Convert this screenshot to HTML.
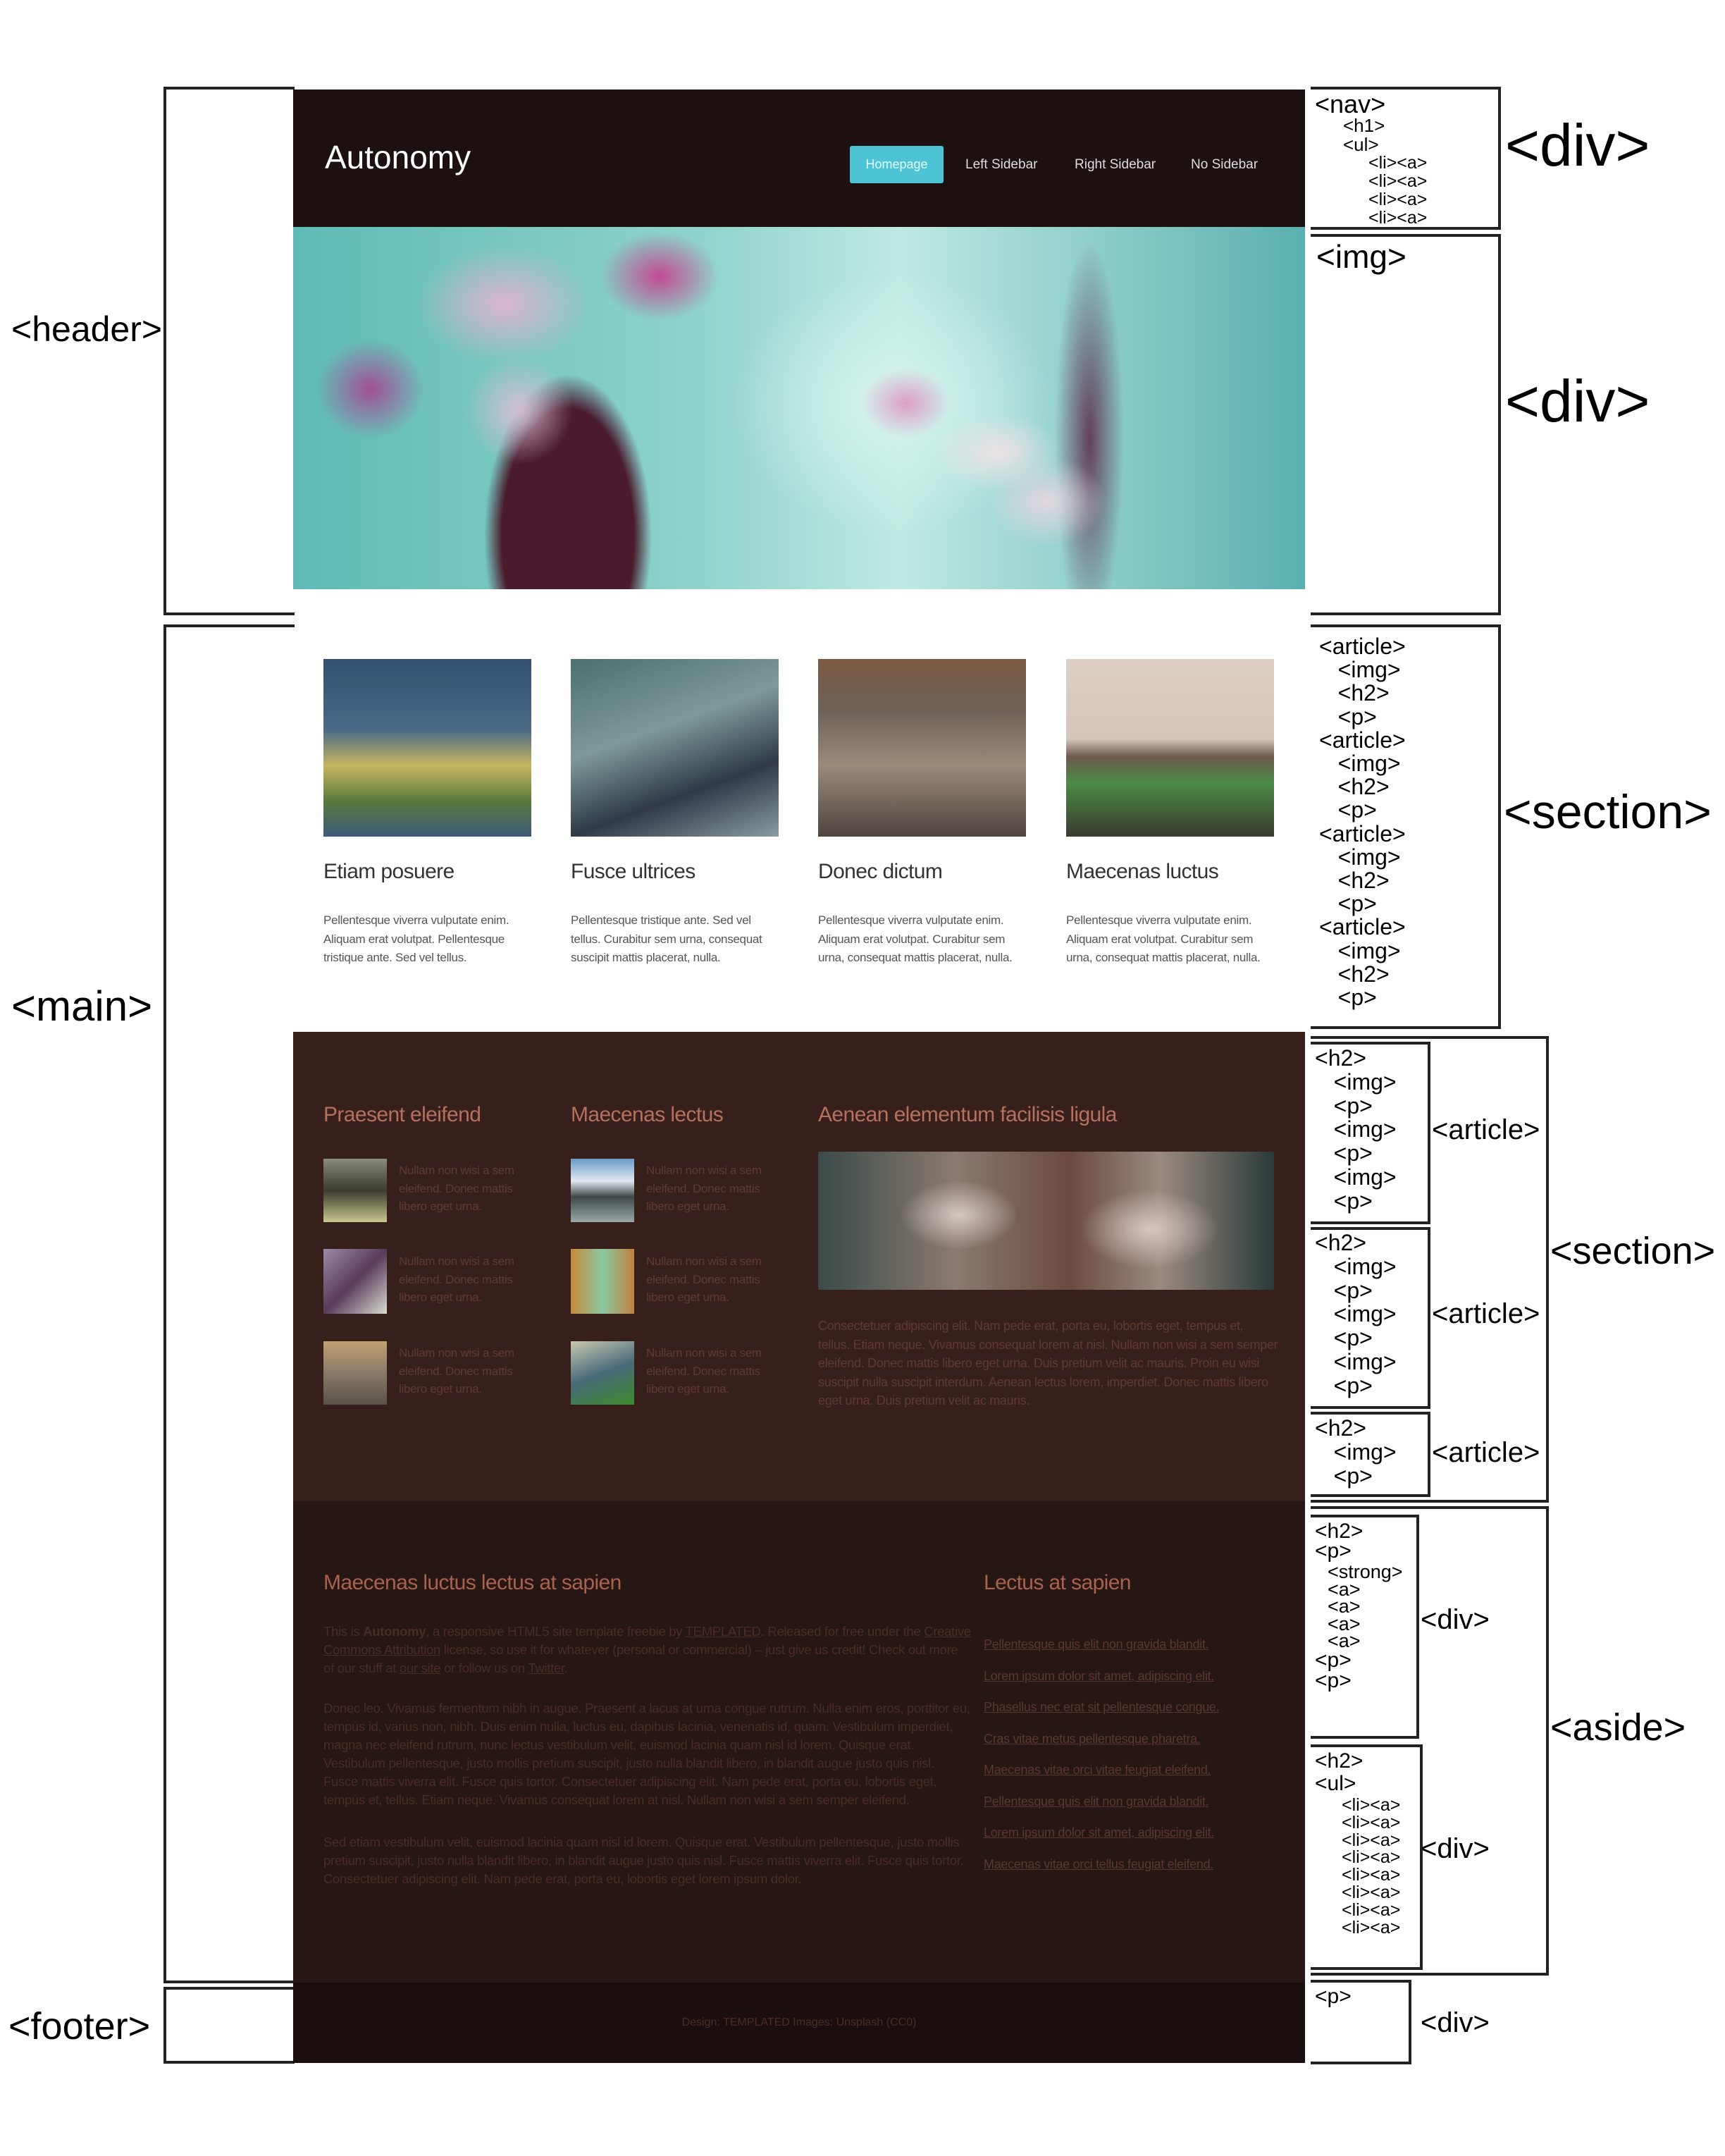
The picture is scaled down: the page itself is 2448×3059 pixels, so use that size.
<!DOCTYPE html>
<html><head><meta charset="utf-8"><style>
*{margin:0;padding:0;box-sizing:border-box}
body{width:2448px;height:3059px;background:#fff;position:relative;overflow:hidden;font-family:"Liberation Sans",sans-serif}
.a{position:absolute;white-space:nowrap}
.lb{position:absolute;border:4px solid #222;border-right:none}
.rb{position:absolute;border:4px solid #222;border-left:none}
.t{position:absolute;white-space:nowrap;color:#000;line-height:1}
.sm{font-size:17px;color:#555;letter-spacing:-0.3px;line-height:1}
.br{font-size:17px;color:#5e3a33;letter-spacing:-0.3px;line-height:1}
.dk{font-size:18.5px;color:#4a2c27;letter-spacing:-0.3px;line-height:1}
.lk{font-size:18px;color:#5a3830;text-decoration:underline;letter-spacing:-0.3px;line-height:1}
.h2{font-size:30px;letter-spacing:-0.6px}
</style></head><body>

<div class="lb" style="left:232px;top:123px;width:186px;height:750px"></div>
<div class="t" style="left:16px;top:442px;font-size:50px">&lt;header&gt;</div>
<div class="lb" style="left:232px;top:886px;width:186px;height:1928px"></div>
<div class="t" style="left:16px;top:1398px;font-size:60px">&lt;main&gt;</div>
<div class="lb" style="left:232px;top:2819px;width:186px;height:109px"></div>
<div class="t" style="left:12px;top:2848px;font-size:54px">&lt;footer&gt;</div>

<div class="a" style="left:416px;top:127px;width:1436px;height:196px;background:#1c1110"></div>
<div class="a" style="left:461px;top:196px;font-size:46px;color:#fff">Autonomy</div>
<div class="a" style="left:1206px;top:207px;width:133px;height:53px;background:#4fc3d6;border-radius:3px"></div>
<div class="a" style="left:1206px;top:223px;width:133px;text-align:center;font-size:18px;color:#dff">Homepage</div>
<div class="a" style="left:1370px;top:223px;font-size:19px;color:#ddd">Left Sidebar</div>
<div class="a" style="left:1525px;top:223px;font-size:19px;color:#ddd">Right Sidebar</div>
<div class="a" style="left:1690px;top:223px;font-size:19px;color:#ddd">No Sidebar</div>

<div class="a" style="left:416px;top:322px;width:1436px;height:514px;overflow:hidden;background:
radial-gradient(ellipse 130px 80px at 1000px 320px,rgba(240,225,230,.95),transparent 70%),
radial-gradient(ellipse 90px 70px at 870px 250px,rgba(220,150,190,.9),transparent 70%),
radial-gradient(ellipse 120px 90px at 1070px 390px,rgba(235,215,225,.9),transparent 70%),
radial-gradient(ellipse 180px 120px at 300px 110px,rgba(225,180,205,.95),transparent 70%),
radial-gradient(ellipse 120px 90px at 520px 70px,rgba(200,60,140,.9),transparent 70%),
radial-gradient(ellipse 110px 100px at 110px 230px,rgba(170,60,140,.85),transparent 70%),
radial-gradient(ellipse 110px 110px at 320px 260px,rgba(220,190,210,.9),transparent 70%),
radial-gradient(ellipse 170px 330px at 390px 440px,#4a1a2e 55%,transparent 70%),
radial-gradient(ellipse 70px 400px at 1130px 300px,rgba(90,40,70,.85),transparent 70%),
radial-gradient(ellipse 300px 250px at 850px 250px,#d8f3ee,transparent 75%),
linear-gradient(90deg,#5fbab5,#8fd3cc 40%,#bfe9e2 60%,#5ab0b0)"></div>

<div class="a" style="left:459px;top:935px;width:295px;height:252px;background:linear-gradient(180deg,#34506e 0%,#4a6a86 40%,#c7b560 60%,#5a7a3c 80%,#3d5a7a)"></div>
<div class="a" style="left:810px;top:935px;width:295px;height:252px;background:linear-gradient(160deg,#4d6f6e,#7e9998 40%,#2f3a46 70%,#8a9aa0)"></div>
<div class="a" style="left:1161px;top:935px;width:295px;height:252px;background:linear-gradient(180deg,#7a5a44 0%,#6f6258 30%,#9a8a7a 60%,#4e443e)"></div>
<div class="a" style="left:1513px;top:935px;width:295px;height:252px;background:linear-gradient(180deg,#dccfc3 0%,#d4c6ba 45%,#6e5a4e 55%,#4b8a46 70%,#3a3a30)"></div>
<div class="a h2" style="left:459px;top:1220px;color:#333">Etiam posuere</div>
<div class="a h2" style="left:810px;top:1220px;color:#333">Fusce ultrices</div>
<div class="a h2" style="left:1161px;top:1220px;color:#333">Donec dictum</div>
<div class="a h2" style="left:1513px;top:1220px;color:#333">Maecenas luctus</div>
<div class="a sm" style="left:459px;top:1293px;line-height:26.5px">Pellentesque viverra vulputate enim.<br>Aliquam erat volutpat. Pellentesque<br>tristique ante. Sed vel tellus.</div>
<div class="a sm" style="left:810px;top:1293px;line-height:26.5px">Pellentesque tristique ante. Sed vel<br>tellus. Curabitur sem urna, consequat<br>suscipit mattis placerat, nulla.</div>
<div class="a sm" style="left:1161px;top:1293px;line-height:26.5px">Pellentesque viverra vulputate enim.<br>Aliquam erat volutpat. Curabitur sem<br>urna, consequat mattis placerat, nulla.</div>
<div class="a sm" style="left:1513px;top:1293px;line-height:26.5px">Pellentesque viverra vulputate enim.<br>Aliquam erat volutpat. Curabitur sem<br>urna, consequat mattis placerat, nulla.</div>

<div class="a" style="left:416px;top:1464px;width:1436px;height:667px;background:#37201c"></div>
<div class="a h2" style="left:459px;top:1565px;color:#b5705e">Praesent eleifend</div>
<div class="a h2" style="left:810px;top:1565px;color:#b5705e">Maecenas lectus</div>
<div class="a h2" style="left:1161px;top:1565px;color:#b5705e">Aenean elementum facilisis ligula</div>

<div class="a" style="left:459px;top:1644px;width:90px;height:90px;background:linear-gradient(180deg,#8a8a80,#3a3a2e 50%,#c8c890)"></div>
<div class="a" style="left:459px;top:1772px;width:90px;height:92px;background:linear-gradient(135deg,#9a8aa8,#5a3a5a 50%,#d8dcd0)"></div>
<div class="a" style="left:459px;top:1903px;width:90px;height:90px;background:linear-gradient(180deg,#c0a070,#8a7a6a 50%,#5a5248)"></div>
<div class="a" style="left:810px;top:1644px;width:90px;height:90px;background:linear-gradient(180deg,#6a9ac8,#e0e8f0 35%,#404848 60%,#9aa8a8)"></div>
<div class="a" style="left:810px;top:1772px;width:90px;height:92px;background:linear-gradient(90deg,#c88a3a,#8ac8a0 50%,#c08040)"></div>
<div class="a" style="left:810px;top:1903px;width:90px;height:90px;background:linear-gradient(160deg,#c8c8b0,#4a6a7a 50%,#3a8a2a)"></div>
<div class="a br" style="left:566px;top:1648px;line-height:25.5px">Nullam non wisi a sem<br>eleifend. Donec mattis<br>libero eget urna.</div>
<div class="a br" style="left:566px;top:1777px;line-height:25.5px">Nullam non wisi a sem<br>eleifend. Donec mattis<br>libero eget urna.</div>
<div class="a br" style="left:566px;top:1907px;line-height:25.5px">Nullam non wisi a sem<br>eleifend. Donec mattis<br>libero eget urna.</div>
<div class="a br" style="left:917px;top:1648px;line-height:25.5px">Nullam non wisi a sem<br>eleifend. Donec mattis<br>libero eget urna.</div>
<div class="a br" style="left:917px;top:1777px;line-height:25.5px">Nullam non wisi a sem<br>eleifend. Donec mattis<br>libero eget urna.</div>
<div class="a br" style="left:917px;top:1907px;line-height:25.5px">Nullam non wisi a sem<br>eleifend. Donec mattis<br>libero eget urna.</div>
<div class="a" style="left:1161px;top:1634px;width:647px;height:196px;background:
radial-gradient(ellipse 120px 70px at 200px 90px,rgba(230,220,215,.8),transparent 70%),
radial-gradient(ellipse 140px 80px at 470px 110px,rgba(230,215,210,.8),transparent 70%),
linear-gradient(90deg,#3a4a48,#8a7a70 30%,#6a4a40 55%,#9a8a80 75%,#2a3a38)"></div>
<div class="a br" style="left:1161px;top:1868px;line-height:26.5px;font-size:18px">Consectetuer adipiscing elit. Nam pede erat, porta eu, lobortis eget, tempus et,<br>tellus. Etiam neque. Vivamus consequat lorem at nisl. Nullam non wisi a sem semper<br>eleifend. Donec mattis libero eget urna. Duis pretium velit ac mauris. Proin eu wisi<br>suscipit nulla suscipit interdum. Aenean lectus lorem, imperdiet. Donec mattis libero<br>eget urna. Duis pretium velit ac mauris.</div>

<div class="a" style="left:416px;top:2130px;width:1436px;height:684px;background:#261614"></div>
<div class="a h2" style="left:459px;top:2229px;color:#a8624f">Maecenas luctus lectus at sapien</div>
<div class="a h2" style="left:1396px;top:2229px;color:#a8624f">Lectus at sapien</div>
<div class="a dk" style="left:459px;top:2302px;line-height:26px">This is <b>Autonomy</b>, a responsive HTML5 site template freebie by <u>TEMPLATED</u>. Released for free under the <u>Creative</u><br><u>Commons Attribution</u> license, so use it for whatever (personal or commercial) – just give us credit! Check out more<br>of our stuff at <u>our site</u> or follow us on <u>Twitter</u>.</div>
<div class="a dk" style="left:459px;top:2411px;line-height:26px">Donec leo. Vivamus fermentum nibh in augue. Praesent a lacus at urna congue rutrum. Nulla enim eros, porttitor eu,<br>tempus id, varius non, nibh. Duis enim nulla, luctus eu, dapibus lacinia, venenatis id, quam. Vestibulum imperdiet,<br>magna nec eleifend rutrum, nunc lectus vestibulum velit, euismod lacinia quam nisl id lorem. Quisque erat.<br>Vestibulum pellentesque, justo mollis pretium suscipit, justo nulla blandit libero, in blandit augue justo quis nisl.<br>Fusce mattis viverra elit. Fusce quis tortor. Consectetuer adipiscing elit. Nam pede erat, porta eu, lobortis eget,<br>tempus et, tellus. Etiam neque. Vivamus consequat lorem at nisl. Nullam non wisi a sem semper eleifend.</div>
<div class="a dk" style="left:459px;top:2601px;line-height:26px">Sed etiam vestibulum velit, euismod lacinia quam nisl id lorem. Quisque erat. Vestibulum pellentesque, justo mollis<br>pretium suscipit, justo nulla blandit libero, in blandit augue justo quis nisl. Fusce mattis viverra elit. Fusce quis tortor.<br>Consectetuer adipiscing elit. Nam pede erat, porta eu, lobortis eget lorem ipsum dolor.</div>
<div class="a lk" style="left:1396px;top:2311px;line-height:44.5px">Pellentesque quis elit non gravida blandit.<br>Lorem ipsum dolor sit amet, adipiscing elit.<br>Phasellus nec erat sit pellentesque congue.<br>Cras vitae metus pellentesque pharetra.<br>Maecenas vitae orci vitae feugiat eleifend.<br>Pellentesque quis elit non gravida blandit.<br>Lorem ipsum dolor sit amet, adipiscing elit.<br>Maecenas vitae orci tellus feugiat eleifend.</div>

<div class="a" style="left:416px;top:2813px;width:1436px;height:114px;background:#1a0f0e"></div>
<div class="a" style="left:416px;top:2861px;width:1436px;text-align:center;font-size:16px;color:#4a2c27">Design: TEMPLATED Images: Unsplash (CC0)</div>

<div class="rb" style="left:1860px;top:123px;width:270px;height:203px"></div>
<div class="t" style="left:1866px;top:130px;font-size:36px">&lt;nav&gt;</div>
<div class="t" style="left:1906px;top:165px;font-size:26px">&lt;h1&gt;</div>
<div class="t" style="left:1906px;top:192px;font-size:26px">&lt;ul&gt;</div>
<div class="t" style="left:1942px;top:218px;font-size:25px;line-height:26px">&lt;li&gt;&lt;a&gt;<br>&lt;li&gt;&lt;a&gt;<br>&lt;li&gt;&lt;a&gt;<br>&lt;li&gt;&lt;a&gt;</div>
<div class="t" style="left:2136px;top:164px;font-size:84px">&lt;div&gt;</div>

<div class="rb" style="left:1860px;top:332px;width:270px;height:541px"></div>
<div class="t" style="left:1868px;top:341px;font-size:46px">&lt;img&gt;</div>
<div class="t" style="left:2136px;top:527px;font-size:84px">&lt;div&gt;</div>

<div class="rb" style="left:1860px;top:886px;width:270px;height:574px"></div>
<div class="t" style="left:1872px;top:901px;font-size:32px;line-height:33.2px">&lt;article&gt;<br>&nbsp;&nbsp;&nbsp;&lt;img&gt;<br>&nbsp;&nbsp;&nbsp;&lt;h2&gt;<br>&nbsp;&nbsp;&nbsp;&lt;p&gt;<br>&lt;article&gt;<br>&nbsp;&nbsp;&nbsp;&lt;img&gt;<br>&nbsp;&nbsp;&nbsp;&lt;h2&gt;<br>&nbsp;&nbsp;&nbsp;&lt;p&gt;<br>&lt;article&gt;<br>&nbsp;&nbsp;&nbsp;&lt;img&gt;<br>&nbsp;&nbsp;&nbsp;&lt;h2&gt;<br>&nbsp;&nbsp;&nbsp;&lt;p&gt;<br>&lt;article&gt;<br>&nbsp;&nbsp;&nbsp;&lt;img&gt;<br>&nbsp;&nbsp;&nbsp;&lt;h2&gt;<br>&nbsp;&nbsp;&nbsp;&lt;p&gt;</div>
<div class="t" style="left:2134px;top:1118px;font-size:68px">&lt;section&gt;</div>

<div class="rb" style="left:1860px;top:1470px;width:338px;height:662px"></div>
<div class="rb" style="left:1860px;top:1478px;width:170px;height:259px"></div>
<div class="rb" style="left:1860px;top:1741px;width:170px;height:258px"></div>
<div class="rb" style="left:1860px;top:2003px;width:170px;height:121px"></div>
<div class="t" style="left:1866px;top:1485px;font-size:32px;line-height:33.8px">&lt;h2&gt;<br>&nbsp;&nbsp;&nbsp;&lt;img&gt;<br>&nbsp;&nbsp;&nbsp;&lt;p&gt;<br>&nbsp;&nbsp;&nbsp;&lt;img&gt;<br>&nbsp;&nbsp;&nbsp;&lt;p&gt;<br>&nbsp;&nbsp;&nbsp;&lt;img&gt;<br>&nbsp;&nbsp;&nbsp;&lt;p&gt;</div>
<div class="t" style="left:1866px;top:1747px;font-size:32px;line-height:33.8px">&lt;h2&gt;<br>&nbsp;&nbsp;&nbsp;&lt;img&gt;<br>&nbsp;&nbsp;&nbsp;&lt;p&gt;<br>&nbsp;&nbsp;&nbsp;&lt;img&gt;<br>&nbsp;&nbsp;&nbsp;&lt;p&gt;<br>&nbsp;&nbsp;&nbsp;&lt;img&gt;<br>&nbsp;&nbsp;&nbsp;&lt;p&gt;</div>
<div class="t" style="left:1866px;top:2010px;font-size:32px;line-height:33.8px">&lt;h2&gt;<br>&nbsp;&nbsp;&nbsp;&lt;img&gt;<br>&nbsp;&nbsp;&nbsp;&lt;p&gt;</div>
<div class="t" style="left:2032px;top:1583px;font-size:40px">&lt;article&gt;</div>
<div class="t" style="left:2032px;top:1844px;font-size:40px">&lt;article&gt;</div>
<div class="t" style="left:2032px;top:2041px;font-size:40px">&lt;article&gt;</div>
<div class="t" style="left:2200px;top:1748px;font-size:54px">&lt;section&gt;</div>

<div class="rb" style="left:1860px;top:2137px;width:338px;height:666px"></div>
<div class="rb" style="left:1860px;top:2149px;width:154px;height:318px"></div>
<div class="rb" style="left:1860px;top:2475px;width:159px;height:320px"></div>
<div class="t" style="left:1866px;top:2158px;font-size:30px">&lt;h2&gt;</div>
<div class="t" style="left:1866px;top:2186px;font-size:30px">&lt;p&gt;</div>
<div class="t" style="left:1884px;top:2218px;font-size:27px;line-height:24.5px">&lt;strong&gt;<br>&lt;a&gt;<br>&lt;a&gt;<br>&lt;a&gt;<br>&lt;a&gt;</div>
<div class="t" style="left:1866px;top:2341px;font-size:30px;line-height:29px">&lt;p&gt;<br>&lt;p&gt;</div>
<div class="t" style="left:1866px;top:2484px;font-size:30px">&lt;h2&gt;</div>
<div class="t" style="left:1866px;top:2516px;font-size:30px">&lt;ul&gt;</div>
<div class="t" style="left:1904px;top:2549px;font-size:25px;line-height:24.8px">&lt;li&gt;&lt;a&gt;<br>&lt;li&gt;&lt;a&gt;<br>&lt;li&gt;&lt;a&gt;<br>&lt;li&gt;&lt;a&gt;<br>&lt;li&gt;&lt;a&gt;<br>&lt;li&gt;&lt;a&gt;<br>&lt;li&gt;&lt;a&gt;<br>&lt;li&gt;&lt;a&gt;</div>
<div class="t" style="left:2016px;top:2278px;font-size:40px">&lt;div&gt;</div>
<div class="t" style="left:2016px;top:2603px;font-size:40px">&lt;div&gt;</div>
<div class="t" style="left:2200px;top:2424px;font-size:54px">&lt;aside&gt;</div>

<div class="rb" style="left:1860px;top:2809px;width:143px;height:120px"></div>
<div class="t" style="left:1866px;top:2818px;font-size:30px">&lt;p&gt;</div>
<div class="t" style="left:2016px;top:2850px;font-size:40px">&lt;div&gt;</div>
</body></html>
